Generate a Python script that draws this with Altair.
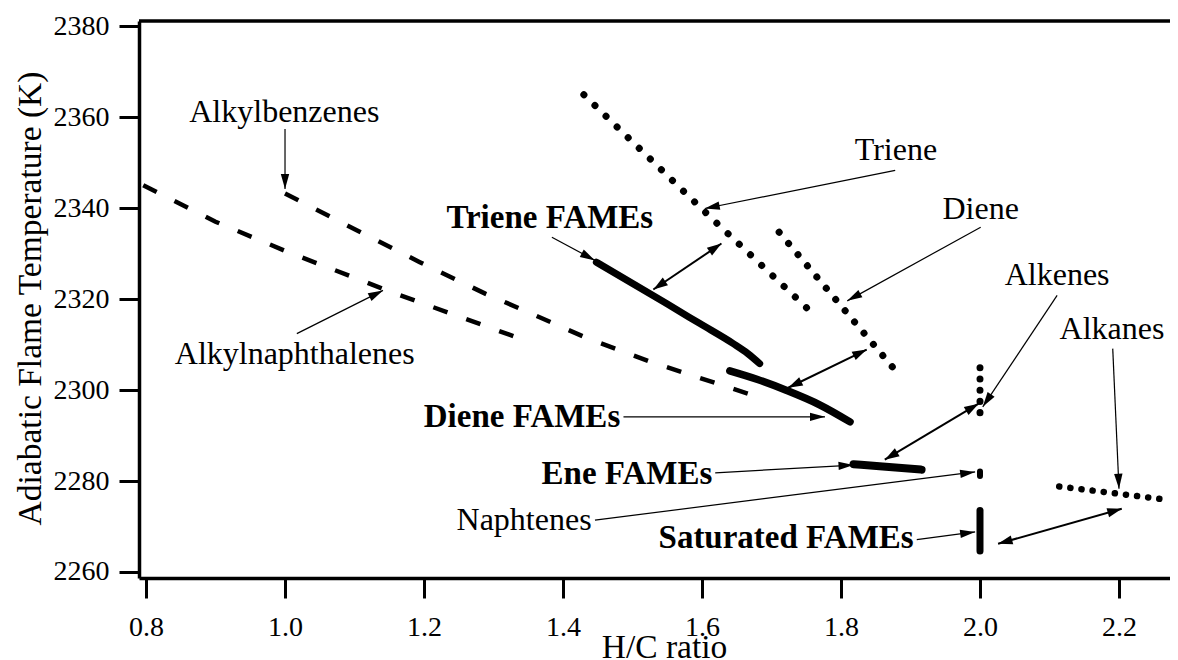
import math
import altair as alt
import pandas as pd

# ---------------- data ----------------
alkylnaph_x = [0.796, 0.9, 1.0, 1.15, 1.333]
alkylnaph_y = [2345.0, 2337.0, 2330.6, 2321.7, 2311.6]

alkylbenz_x = [1.0, 1.101, 1.194, 1.288, 1.338, 1.433, 1.526, 1.618, 1.674]
alkylbenz_y = [2343.2, 2335.3, 2328.1, 2321.2, 2317.9, 2311.5, 2306.2, 2301.6, 2298.8]

triene_x = [1.430, 1.606, 1.765]
triene_y = [2364.9, 2338.9, 2316.0]

diene_x = [1.711, 1.887]
diene_y = [2334.7, 2302.7]

alkenes_x = [2.0, 2.0]
alkenes_y = [2304.9, 2292.6]

alkanes_x = [2.114, 2.273]
alkanes_y = [2278.8, 2275.8]

naphtenes_x = [2.0, 2.0]
naphtenes_y = [2281.1, 2282.1]

triene_fame_x = [1.448, 1.549, 1.597, 1.645, 1.666, 1.683]
triene_fame_y = [2328.1, 2319.0, 2314.6, 2310.2, 2308.0, 2305.8]

diene_fame_x = [1.640, 1.680, 1.722, 1.770, 1.813]
diene_fame_y = [2304.2, 2302.3, 2299.9, 2296.7, 2293.0]

ene_fame_x = [1.818, 1.860, 1.916]
ene_fame_y = [2283.7, 2283.2, 2282.5]

sat_fame_x = [2.0, 2.0]
sat_fame_y = [2264.6, 2273.5]

labels = ["Alkylbenzenes", "Alkylnaphthalenes", "Triene", "Diene",
          "Alkenes", "Alkanes", "Naphtenes"]
labels_x = [0.999, 1.014, 1.879, 2.001, 2.111, 2.190, 1.344]
labels_y = [2358.9, 2305.8, 2350.5, 2337.7, 2323.0, 2311.3, 2269.2]

bold_labels = ["Triene FAMEs", "Diene FAMEs", "Ene FAMEs", "Saturated FAMEs"]
bold_x = [1.381, 1.341, 1.492, 1.721]
bold_y = [2335.6, 2291.9, 2279.4, 2265.2]

# single arrows: tail -> head
arrow_tail_x = [1.0, 1.017, 1.384, 1.878, 2.001, 2.111, 2.191, 1.487, 1.619, 1.446, 1.909]
arrow_tail_y = [2357.4, 2312.4, 2333.6, 2348.3, 2335.8, 2320.8, 2309.1, 2294.1, 2281.8, 2271.4, 2267.1]
arrow_head_x = [1.0, 1.141, 1.446, 1.604, 1.809, 2.004, 2.200, 1.777, 1.818, 1.993, 1.993]
arrow_head_y = [2344.2, 2321.9, 2328.5, 2339.9, 2319.6, 2296.3, 2278.3, 2294.1, 2283.5, 2282.0, 2268.8]

# double arrows: end A <-> end B
darrow_a_x = [1.530, 1.724, 1.863, 2.026]
darrow_a_y = [2322.1, 2300.5, 2284.7, 2266.2]
darrow_b_x = [1.628, 1.837, 1.998, 2.204]
darrow_b_y = [2332.2, 2308.9, 2297.0, 2273.9]

x_ticks = [0.8, 1.0, 1.2, 1.4, 1.6, 1.8, 2.0, 2.2]
y_ticks = [2260, 2280, 2300, 2320, 2340, 2360, 2380]

# ---------------- layout ----------------
X_MIN, X_MAX = 0.7899, 2.2734
Y_MIN, Y_MAX = 2258.68, 2381.12
W, H = 1031, 557
PX_X = W / (X_MAX - X_MIN)
PX_Y = H / (Y_MAX - Y_MIN)
FONT = "Liberation Serif"

xs = alt.Scale(domain=[X_MIN, X_MAX], nice=False, zero=False)
ys = alt.Scale(domain=[Y_MIN, Y_MAX], nice=False, zero=False)

x_axis = alt.Axis(values=x_ticks, format=".1f", title="H/C ratio", grid=False,
                  tickSize=20, tickWidth=3, tickColor="black",
                  domainWidth=3.5, domainColor="black",
                  labelFont=FONT, labelFontSize=28, labelColor="black",
                  labelPadding=15, labelFlush=False, labelOverlap=False,
                  titleFont=FONT, titleFontSize=33.5, titleFontWeight="normal",
                  titleColor="black", titleX=525, titleY=79,
                  titleBaseline="alphabetic", titleAlign="center")
y_axis = alt.Axis(values=y_ticks, format="d", title="Adiabatic Flame Temperature (K)",
                  grid=False, tickSize=20, tickWidth=3, tickColor="black",
                  domainWidth=3.5, domainColor="black",
                  labelFont=FONT, labelFontSize=28, labelColor="black",
                  labelPadding=10, labelFlush=False, labelOverlap=False,
                  titleFont=FONT, titleFontSize=33.5, titleFontWeight="normal",
                  titleColor="black", titleAngle=270, titleX=-99, titleY=277,
                  titleBaseline="alphabetic", titleAlign="center")


def X():
    return alt.X("x:Q", scale=xs, axis=x_axis)


def Y():
    return alt.Y("y:Q", scale=ys, axis=y_axis)


def line_df(xv, yv):
    return pd.DataFrame({"x": xv, "y": yv, "o": list(range(len(xv)))})


layers = []

# dashed series
for xv, yv in [(alkylnaph_x, alkylnaph_y), (alkylbenz_x, alkylbenz_y)]:
    layers.append(
        alt.Chart(line_df(xv, yv)).mark_line(
            color="black", strokeWidth=4.5, strokeDash=[15, 20], strokeCap="butt"
        ).encode(x=X(), y=Y(), order="o:Q")
    )

# dotted series
for xv, yv, gap, w in [
    (triene_x, triene_y, 15.3, 7),
    (diene_x, diene_y, 14.55, 7),
    (alkenes_x, alkenes_y, 11.1, 7),
    (alkanes_x, alkanes_y, 11.1, 6.5),
]:
    layers.append(
        alt.Chart(line_df(xv, yv)).mark_line(
            color="black", strokeWidth=w, strokeDash=[0.1, gap], strokeCap="round"
        ).encode(x=X(), y=Y(), order="o:Q")
    )

# solid FAME lines and short marks
for xv, yv, w in [
    (triene_fame_x, triene_fame_y, 7),
    (diene_fame_x, diene_fame_y, 7.5),
    (ene_fame_x, ene_fame_y, 8),
    (sat_fame_x, sat_fame_y, 7),
    (naphtenes_x, naphtenes_y, 6),
]:
    layers.append(
        alt.Chart(line_df(xv, yv)).mark_line(
            color="black", strokeWidth=w, strokeCap="round", strokeJoin="round",
            interpolate="monotone"
        ).encode(x=X(), y=Y(), order="o:Q")
    )


def head_angle(tx, ty, hx, hy):
    dx = (hx - tx) * PX_X
    dy = -(hy - ty) * PX_Y
    return math.degrees(math.atan2(dx, -dy)) % 360


# arrows: shafts
single = pd.DataFrame({"x": arrow_tail_x, "y": arrow_tail_y,
                       "x2": arrow_head_x, "y2": arrow_head_y})
double = pd.DataFrame({"x": darrow_a_x, "y": darrow_a_y,
                       "x2": darrow_b_x, "y2": darrow_b_y})
layers.append(
    alt.Chart(single).mark_rule(color="black", strokeWidth=1.2).encode(
        x=X(), y=Y(), x2="x2:Q", y2="y2:Q")
)
layers.append(
    alt.Chart(double).mark_rule(color="black", strokeWidth=2).encode(
        x=X(), y=Y(), x2="x2:Q", y2="y2:Q")
)

# arrow heads
hx, hy, ha = [], [], []
for tx, ty, px_, py_ in zip(arrow_tail_x, arrow_tail_y, arrow_head_x, arrow_head_y):
    hx.append(px_); hy.append(py_); ha.append(head_angle(tx, ty, px_, py_))
dhx, dhy, dha = [], [], []
for ax_, ay_, bx_, by_ in zip(darrow_a_x, darrow_a_y, darrow_b_x, darrow_b_y):
    dhx += [ax_, bx_]; dhy += [ay_, by_]
    dha += [head_angle(bx_, by_, ax_, ay_), head_angle(ax_, ay_, bx_, by_)]

layers.append(
    alt.Chart(pd.DataFrame({"x": hx, "y": hy, "a": ha})).mark_point(
        shape="M0,0L-0.28,1L0.28,1Z", filled=True, color="black", opacity=1,
        size=900, strokeWidth=0
    ).encode(x=X(), y=Y(), angle=alt.Angle("a:Q", scale=None))
)
layers.append(
    alt.Chart(pd.DataFrame({"x": dhx, "y": dhy, "a": dha})).mark_point(
        shape="M0,0L-0.32,1L0.32,1Z", filled=True, color="black", opacity=1,
        size=840, strokeWidth=0
    ).encode(x=X(), y=Y(), angle=alt.Angle("a:Q", scale=None))
)

# labels
layers.append(
    alt.Chart(pd.DataFrame({"x": labels_x, "y": labels_y, "t": labels})).mark_text(
        font=FONT, fontSize=32, align="center", baseline="alphabetic", color="black"
    ).encode(x=X(), y=Y(), text="t:N")
)
layers.append(
    alt.Chart(pd.DataFrame({"x": bold_x, "y": bold_y, "t": bold_labels})).mark_text(
        font=FONT, fontSize=33, fontWeight="bold", align="center",
        baseline="alphabetic", color="black"
    ).encode(x=X(), y=Y(), text="t:N")
)

# top frame line
layers.append(
    alt.Chart(pd.DataFrame({"k": [0]})).mark_rule(color="black", strokeWidth=3.5).encode(
        x=alt.value(0), x2=alt.value(W), y=alt.value(0))
)

chart = alt.layer(*layers).properties(
    width=W, height=H,
    autosize=alt.AutoSizeParams(type="none"),
    padding={"left": 131, "top": 13, "right": 0, "bottom": 82},
).configure_view(strokeWidth=0)

chart.save("out.html", embed_options={"renderer": "svg", "actions": False})
